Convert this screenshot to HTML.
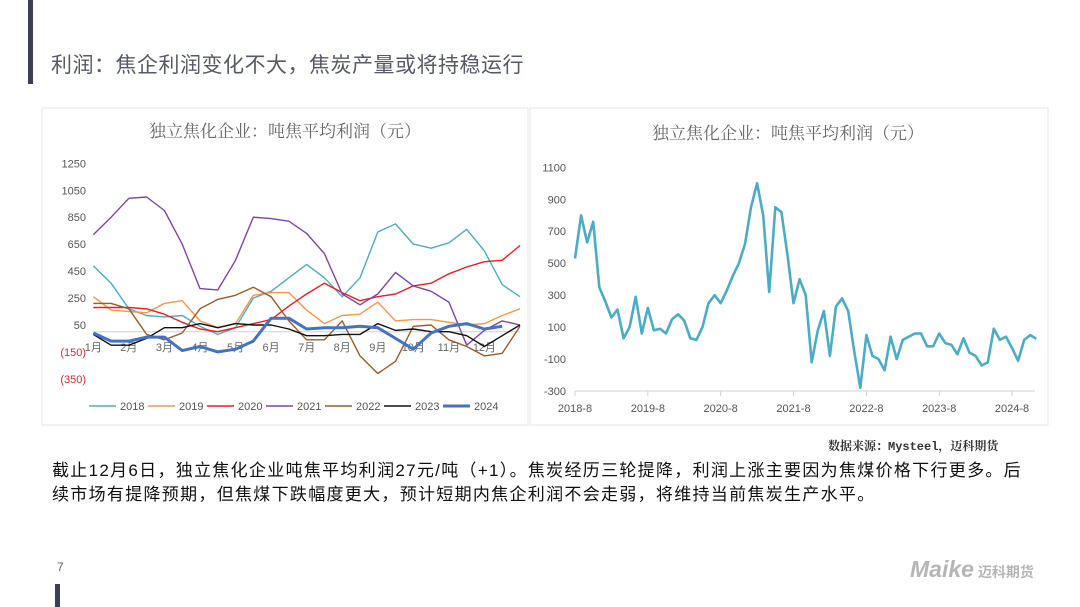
<!DOCTYPE html>
<html><head><meta charset="utf-8">
<style>
body{margin:0;width:1080px;height:607px;background:#fff;position:relative;overflow:hidden;font-family:"Liberation Sans","Noto Sans CJK SC",sans-serif;}
.abs{position:absolute;}
</style></head><body>
<div class="abs" style="left:28px;top:0;width:5px;height:84px;background:#3b3f55"></div>
<div class="abs" style="left:55px;top:584px;width:5px;height:23px;background:#3b3f55"></div>
<div class="abs" style="left:51px;top:49px;font-size:21px;letter-spacing:0.5px;color:#555a66;white-space:nowrap">利润：焦企利润变化不大，焦炭产量或将持稳运行</div>
<svg class="abs" style="left:0;top:0" width="1080" height="607">
<rect x="42" y="108" width="486" height="317" fill="#fff" stroke="#e4e4e4"/>
<rect x="530" y="108" width="518" height="317" fill="#fff" stroke="#e4e4e4"/>
<g id="left"></g><g id="right"></g>
</svg>
<div class="abs" style="left:828px;top:437px;font-size:12px;font-weight:bold;color:#333;font-family:'Liberation Mono','Noto Serif CJK SC',monospace;white-space:nowrap">数据来源：Mysteel，迈科期货</div>
<div class="abs" style="left:52px;top:459px;font-size:17px;letter-spacing:1.3px;line-height:24px;color:#111;white-space:nowrap">截止12月6日，独立焦化企业吨焦平均利润27元/吨（+1）。焦炭经历三轮提降，利润上涨主要因为焦煤价格下行更多。后<br>续市场有提降预期，但焦煤下跌幅度更大，预计短期内焦企利润不会走弱，将维持当前焦炭生产水平。</div>
<div class="abs" style="left:57px;top:560px;font-size:12px;color:#666">7</div>
<div class="abs" style="left:910px;top:556px;font-size:23px;font-weight:bold;font-style:italic;color:#b5b5b5;white-space:nowrap">Maike<span style="font-size:14px;font-style:normal;margin-left:4px">迈科期货</span></div>
<script>
const NS='http://www.w3.org/2000/svg';
function mk(tag,attrs,parent,text){const e=document.createElementNS(NS,tag);for(const k in attrs)e.setAttribute(k,attrs[k]);if(text!==undefined)e.textContent=text;parent.appendChild(e);return e;}
// ---- Left chart data ----
const leftTicks=[1250,1050,850,650,450,250,50,-150,-350];
const months=['1月','2月','3月','4月','5月','6月','7月','8月','9月','10月','11月','12月'];
const years=['2018','2019','2020','2021','2022','2023','2024'];
const colors=['#4bacc6','#f79646','#ee1c1c','#7d45a8','#9c5c25','#111111','#4472c4'];
const s2018=[490,360,170,120,110,120,40,-20,30,250,300,400,500,400,260,400,740,800,650,620,660,760,600,350,260];
const s2019=[260,160,150,140,210,230,80,30,60,270,290,290,160,60,120,130,220,80,90,90,70,50,60,120,170];
const s2020=[180,180,180,170,130,70,20,0,30,60,90,190,280,360,290,230,260,280,340,360,430,480,520,530,640];
const s2021=[720,850,990,1000,900,650,320,310,530,850,840,820,730,580,280,200,280,440,340,300,220,-100,10,80,50];
const s2022=[210,210,170,-20,-60,-10,170,240,270,330,260,80,-60,-60,80,-180,-310,-220,40,50,-60,-110,-180,-160,40];
const s2023=[-20,-100,-100,-50,30,30,60,30,60,50,50,20,-30,-30,-20,-20,60,10,20,0,0,-30,-110,-30,50];
const s2024=[-10,-70,-70,-40,-40,-140,-110,-150,-130,-70,100,100,20,30,30,40,30,-50,-130,-10,40,60,20,40];
const series=[s2018,s2019,s2020,s2021,s2022,s2023,s2024];
// ---- Right chart data (monthly, 2018-8 .. 2024-12) ----
const rTicks=[1100,900,700,500,300,100,-100,-300];
const rXLabels=['2018-8','2019-8','2020-8','2021-8','2022-8','2023-8','2024-8'];
const rValues=[530,800,630,760,350,260,160,210,30,100,290,60,220,80,90,60,150,180,140,30,20,100,250,300,250,330,420,500,620,850,1000,800,320,850,820,550,250,400,300,-120,80,200,-80,230,280,200,-50,-280,50,-80,-100,-170,40,-100,20,40,60,60,-20,-20,60,0,-10,-70,30,-60,-80,-140,-120,90,20,40,-30,-110,20,50,27];

const L=document.getElementById('left');
mk('text',{x:285,y:137,'text-anchor':'middle','font-size':17,fill:'#666','font-family':'"Noto Serif CJK SC",serif',},L,'独立焦化企业：吨焦平均利润（元）');
const lx0=93.3,lx1=520,ly0=331.7,lk=0.1347;
const lX=i=>lx0+(lx1-lx0)*i/24, lY=v=>ly0-v*lk;
leftTicks.forEach(t=>{const neg=t<0;mk('text',{x:86,y:lY(t)+4,'text-anchor':'end','font-size':11,fill:neg?'#e0242a':'#555',},L,neg?'('+(-t)+')':String(t));});
mk('line',{x1:lx0,y1:ly0,x2:lx1,y2:ly0,stroke:'#d0d0d0',},L);
months.forEach((m,i)=>{mk('text',{x:lX(i*2),y:351,'text-anchor':'middle','font-size':11,fill:'#666',},L,m);});
series.forEach((s,k)=>{const d=s.map((v,i)=>(i?'L':'M')+lX(i).toFixed(1)+','+lY(v).toFixed(1)).join('');
const p=mk('path',{d:d,fill:'none',stroke:colors[k],'stroke-width':k===6?3:1.4,'stroke-linejoin':'round'},L);

});
years.forEach((y,k)=>{const x=89+k*59;
const g=mk('g',{},L);


mk('line',{x1:x,y1:406,x2:x+27,y2:406,stroke:colors[k],'stroke-width':k===6?3:1.5},g);
mk('text',{x:x+31,y:410,'font-size':11,fill:'#555'},g,y);});

const R=document.getElementById('right');
mk('text',{x:788,y:139,'text-anchor':'middle','font-size':17,fill:'#666','font-family':'"Noto Serif CJK SC",serif',},R,'独立焦化企业：吨焦平均利润（元）');
const rx0=575,rm=6.07,ry0=343.1,rk=0.1598;
const rX=i=>rx0+i*rm, rY=v=>ry0-v*rk;
rTicks.forEach(t=>{mk('text',{x:566,y:rY(t)+4,'text-anchor':'end','font-size':11,fill:'#555',},R,String(t));});
mk('line',{x1:rx0,y1:rY(-300),x2:1035,y2:rY(-300),stroke:'#d0d0d0',},R);
rXLabels.forEach((l,i)=>{const x=rX(i*12);mk('line',{x1:x,y1:rY(-300),x2:x,y2:rY(-300)+5,stroke:'#d0d0d0'},R);
mk('text',{x:x,y:412,'text-anchor':'middle','font-size':11,fill:'#555',},R,l);});
const rd=rValues.map((v,i)=>(i?'L':'M')+rX(i).toFixed(1)+','+rY(v).toFixed(1)).join('');
const rp=mk('path',{d:rd,fill:'none',stroke:'#4bacc6','stroke-width':2.6,'stroke-linejoin':'round'},R);


</script>
</body></html>
